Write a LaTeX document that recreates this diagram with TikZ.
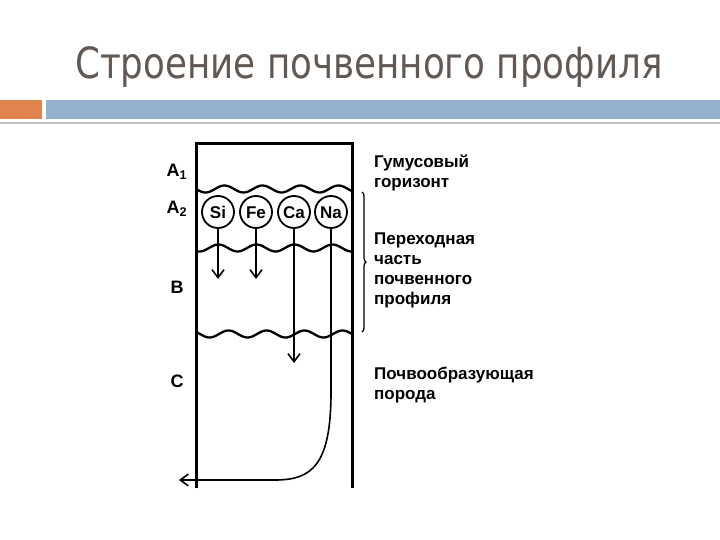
\documentclass[tikz,border=0pt]{standalone}
\usepackage{fontspec}
\setmainfont{Liberation Sans}
\newfontfamily\titlefont[FakeStretch=0.83]{DejaVu Sans}
\usetikzlibrary{arrows.meta, decorations.pathreplacing}
\definecolor{slideorange}{RGB}{224,131,76}
\definecolor{slideblue}{RGB}{148,178,205}
\definecolor{slidegray}{RGB}{196,192,192}
\definecolor{titlegray}{RGB}{98,88,84}
\tikzset{
  wall/.style={line width=3pt, line join=miter},
  horizon/.style={line width=2.3pt},
  ion/.style={circle, draw, line width=1.8pt, minimum size=32pt, inner sep=0pt,
    text height=12.2pt, text depth=0pt,
    font=\fontsize{17}{17}\selectfont\bfseries},
  leach/.style={-{Straight Barb[length=8pt, width=12pt]}, line width=1.6pt},
  layertag/.style={inner sep=0pt, font=\fontsize{18}{18}\selectfont\bfseries},
  note/.style={inner sep=0pt, anchor=north west, align=left,
    font=\fontsize{17}{20}\selectfont\bfseries}
}

\begin{document}
\begin{tikzpicture}[x=1pt, y=-1pt]
  \useasboundingbox (0,0) rectangle (720,540);

  % --- Slide header ---
  \node[anchor=base west, inner sep=0pt, text=titlegray,
        font=\titlefont\fontsize{43}{43}\selectfont] (title) at (75,79)
        {Строение почвенного профиля};
  \fill[slideorange] (0,100) rectangle (42,119);
  \fill[slideblue] (46,100) rectangle (720,119);
  \draw[slidegray, line width=2pt] (0,123) -- (720,123);

  % --- Profile walls ---
  \draw[wall] (196,488) -- (196,144) -- (352,144) -- (352,488);

  % --- Horizon boundaries ---
  \draw[horizon] plot[domain=196:352, samples=80, smooth]
       (\x, {189+3.5*sin((\x-196)/38*360)});
  \draw[horizon] plot[domain=196:352, samples=80, smooth]
       (\x, {248+3.5*sin((\x-190)/38*360)});
  \draw[horizon] plot[domain=196:352, samples=80, smooth]
       (\x, {334+3.5*sin((\x-200)/38*360)});

  % --- Elements in A2 ---
  \node[ion] (si) at (218,212) {Si};
  \node[ion] (fe) at (256,212) {Fe};
  \node[ion] (ca) at (294,212) {Ca};
  \node[ion] (na) at (331,212) {Na};

  \coordinate (si end) at (218,279);
  \coordinate (fe end) at (256,279);
  \coordinate (ca end) at (294,363);
  \coordinate (na end) at (179,480);

  \draw[leach] (si) -- (si end);
  \draw[leach] (fe) -- (fe end);
  \draw[leach] (ca) -- (ca end);
  \draw[leach] (na) -- (331,392) .. controls (331,465) and (312,480) .. (275,480)
       -- (na end);

  % --- Layer letters ---
  \node[layertag] (a1) at (177,172) {A\textsubscript{1}};
  \node[layertag] (a2) at (177,209) {A\textsubscript{2}};
  \node[layertag] (b)  at (177,287) {B};
  \node[layertag] (c)  at (177,381) {C};

  % --- Brace and descriptions ---
  \draw[line width=1.3pt, decorate, decoration={brace, amplitude=4pt}]
       (362,192) -- (362,332);
  \node[note] (humus) at (374,155) {Гумусовый\\горизонт};
  \node[note] (trans) at (374,233) {Переходная\\часть\\почвенного\\профиля};
  \node[note] (rock)  at (374,367) {Почвообразующая\\порода};
\end{tikzpicture}
\end{document}
